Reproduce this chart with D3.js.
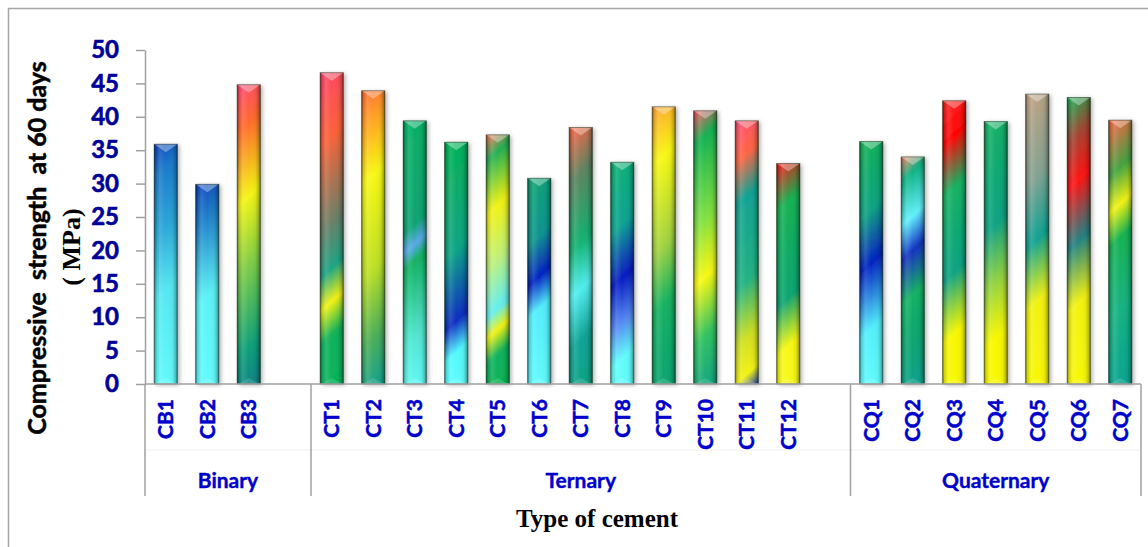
<!DOCTYPE html>
<html>
<head>
<meta charset="utf-8">
<script src="https://cdn.jsdelivr.net/npm/d3@7"></script>
<style>
  body { margin: 0; background: #fff; }
  svg { display: block; font-family: Lato, "Open Sans", sans-serif; }
</style>
</head>
<body>
<svg id="chart" width="1148" height="547"></svg>
<script>
// groups of cement and their mixes
const groups = ["Binary", "Ternary", "Quaternary"];
const binaryMixes = ["CB1", "CB2", "CB3"];
const ternaryMixes = ["CT1", "CT2", "CT3", "CT4", "CT5", "CT6", "CT7", "CT8", "CT9", "CT10", "CT11", "CT12"];
const quaternaryMixes = ["CQ1", "CQ2", "CQ3", "CQ4", "CQ5", "CQ6", "CQ7"];

// compressive strength at 60 days (MPa)
const binaryStrength = [35.9, 29.9, 44.8];
const ternaryStrength = [46.6, 43.9, 39.4, 36.2, 37.3, 30.8, 38.4, 33.2, 41.5, 40.9, 39.4, 33.0];
const quaternaryStrength = [36.3, 34.0, 42.4, 39.3, 43.4, 42.9, 39.5];

const yTicks = [0, 5, 10, 15, 20, 25, 30, 35, 40, 45, 50];

// the "rainbow" gradient of each bar, top to bottom (style only)
const barFills = [
  [[0, "#0a3cbc"], [0.12, "#1a78c8"], [0.35, "#2aa6d8"], [0.6, "#55e8f2"], [1, "#62fcfc"]],
  [[0, "#0a40bc"], [0.2, "#1f80c8"], [0.55, "#5cf2f6"], [1, "#62fcfc"]],
  [[0, "#ff4474"], [0.15, "#ff6a2c"], [0.38, "#f4f414"], [0.6, "#7ccc48"], [0.85, "#10a078"], [1, "#127e86"]],
  [[0, "#ff4468"], [0.22, "#fb6238"], [0.48, "#6a8068"], [0.62, "#1ea484"], [0.72, "#f2f214"], [0.82, "#12b25a"], [1, "#02b45c"]],
  [[0, "#ff6a34"], [0.15, "#ffb020"], [0.3, "#f8f812"], [0.6, "#bce024"], [0.82, "#4cae58"], [1, "#10a292"]],
  [[0, "#04b062"], [0.4, "#10a474"], [0.47, "#58a8e8"], [0.53, "#12b262"], [0.8, "#52e6d2"], [1, "#62fcfc"]],
  [[0, "#02b252"], [0.45, "#10a484"], [0.72, "#0e2cc2"], [0.84, "#52fafc"], [1, "#62fcfc"]],
  [[0, "#ff7050"], [0.1, "#22b054"], [0.3, "#f2f212"], [0.5, "#bcf07e"], [0.68, "#62eef0"], [0.76, "#f2f212"], [0.85, "#12b25e"], [1, "#02b452"]],
  [[0, "#10a472"], [0.3, "#10948e"], [0.48, "#0422c2"], [0.62, "#52eefc"], [1, "#62fcfc"]],
  [[0, "#ff6444"], [0.2, "#5e8460"], [0.45, "#12b270"], [0.62, "#52eef0"], [0.8, "#10a496"], [1, "#10a282"]],
  [[0, "#10b272"], [0.3, "#10a292"], [0.52, "#061ac2"], [0.7, "#5488f2"], [0.85, "#62fcfc"], [1, "#62fcfc"]],
  [[0, "#ffa030"], [0.2, "#f8f812"], [0.5, "#a2d242"], [0.7, "#12b262"], [1, "#10a272"]],
  [[0, "#ff5064"], [0.12, "#12b252"], [0.4, "#82e042"], [0.6, "#f8f812"], [0.8, "#32c262"], [1, "#10a282"]],
  [[0, "#ff4e74"], [0.15, "#ff6442"], [0.3, "#10a292"], [0.6, "#22b282"], [0.8, "#d0e022"], [0.93, "#f2f212"], [1, "#2444c2"]],
  [[0, "#ff1212"], [0.2, "#12b252"], [0.6, "#10a472"], [0.8, "#f8f812"], [1, "#f8f812"]],
  [[0, "#12b252"], [0.3, "#10a282"], [0.5, "#0422c2"], [0.75, "#52f0fc"], [1, "#62fcfc"]],
  [[0, "#ff8262"], [0.1, "#10b282"], [0.28, "#62f0fc"], [0.42, "#1232c2"], [0.6, "#12b262"], [0.8, "#10a472"], [1, "#10a292"]],
  [[0, "#ff2222"], [0.15, "#ff0404"], [0.32, "#12b262"], [0.6, "#10a282"], [0.8, "#f8f802"], [1, "#f8f802"]],
  [[0, "#12b262"], [0.4, "#10a282"], [0.6, "#92d242"], [0.8, "#f8f802"], [1, "#f8f802"]],
  [[0, "#c2a282"], [0.3, "#82a292"], [0.5, "#10a292"], [0.7, "#f2f212"], [1, "#f8f802"]],
  [[0, "#12b252"], [0.15, "#a24432"], [0.3, "#ff1212"], [0.5, "#228282"], [0.7, "#f2f212"], [1, "#f8f802"]],
  [[0, "#ff6242"], [0.2, "#42a242"], [0.33, "#f2f212"], [0.45, "#12b252"], [0.7, "#12b282"], [1, "#10a292"]]
];

const svg = d3.select("#chart");
const defs = svg.append("defs");

// build rows and the slot list (an empty slot after every group but the last)
const mixSets = [binaryMixes, ternaryMixes, quaternaryMixes];
const valueSets = [binaryStrength, ternaryStrength, quaternaryStrength];
const rows = [];
const slots = [];
mixSets.forEach((mixes, gi) => {
  mixes.forEach((m, i) => {
    rows.push({ key: m, value: valueSets[gi][i], group: gi });
    slots.push(m);
  });
  if (gi < mixSets.length - 1) slots.push("gap" + gi);
});

const x = d3.scaleBand().domain(slots).range([145, 1141]).paddingInner(0.44).paddingOuter(0.22);
const y = d3.scaleLinear().domain([0, 50]).range([384, 50]);

// outer frame
svg.append("rect")
  .attr("x", 8.5).attr("y", 8.5)
  .attr("width", 1170).attr("height", 570)
  .attr("fill", "none").attr("stroke", "#a6a6a6").attr("stroke-width", 1.5);

// shadow + side shading
const shadow = defs.append("filter").attr("id", "shadow")
  .attr("x", "-60%").attr("y", "-10%").attr("width", "220%").attr("height", "120%");
shadow.append("feDropShadow")
  .attr("dx", 2).attr("dy", 1).attr("stdDeviation", 2)
  .attr("flood-color", "#000").attr("flood-opacity", 0.32);

const edge = defs.append("linearGradient").attr("id", "edge")
  .attr("x1", 0).attr("x2", 1).attr("y1", 0).attr("y2", 0);
[[0, "#000", 0.55], [0.08, "#000", 0.15], [0.25, "#fff", 0.12], [0.5, "#fff", 0],
 [0.8, "#000", 0.05], [0.93, "#000", 0.25], [1, "#000", 0.6]].forEach(s => {
  edge.append("stop").attr("offset", s[0]).attr("stop-color", s[1]).attr("stop-opacity", s[2]);
});

// faint level line under the labels
svg.append("line")
  .attr("x1", 145).attr("x2", 1141).attr("y1", 450).attr("y2", 450)
  .attr("stroke", "#f0f0f0").attr("stroke-width", 1);

// bars
const bw = x.bandwidth();
const slope = 0.9;
const bars = svg.append("g").selectAll("g.bar")
  .data(rows)
  .join("g")
  .attr("class", "bar");

bars.each(function (d, i) {
  const g = d3.select(this);
  const x0 = x(d.key);
  const top = y(d.value);
  const h = y(0) - top;
  const t = (bw * slope + h) / (slope * slope + 1);
  const grad = defs.append("linearGradient").attr("id", "fill" + i)
    .attr("gradientUnits", "userSpaceOnUse")
    .attr("x1", x0).attr("y1", top)
    .attr("x2", x0 + slope * t).attr("y2", top + t);
  barFills[i].forEach(s => {
    grad.append("stop").attr("offset", s[0]).attr("stop-color", s[1]);
  });

  g.append("rect")
    .attr("x", x0).attr("y", top).attr("width", bw).attr("height", h)
    .attr("fill", "url(#fill" + i + ")")
    .attr("filter", "url(#shadow)");
  g.append("rect")
    .attr("x", x0).attr("y", top).attr("width", bw).attr("height", h)
    .attr("fill", "url(#edge)");
  g.append("polygon")
    .attr("points", [[x0, top], [x0 + bw, top], [x0 + bw / 2, top + 8]].join(" "))
    .attr("fill", "#fff").attr("fill-opacity", 0.35);
  g.append("polygon")
    .attr("points", [[x0 + 1, y(0)], [x0 + bw - 1, y(0)], [x0 + bw / 2, y(0) - 6]].join(" "))
    .attr("fill", "#fff").attr("fill-opacity", 0.15);
  g.append("rect")
    .attr("x", x0).attr("y", top).attr("width", bw).attr("height", h)
    .attr("fill", "none").attr("stroke", "#1e321e").attr("stroke-opacity", 0.6).attr("stroke-width", 0.8);
});

// y axis
const yAxis = svg.append("g")
  .attr("transform", "translate(145,0)")
  .call(d3.axisLeft(y).tickValues(yTicks).tickSize(9).tickSizeOuter(0).tickPadding(17));
yAxis.select(".domain").attr("stroke", "#a0a0a0").attr("stroke-width", 1.5);
yAxis.selectAll(".tick line").attr("stroke", "#a0a0a0").attr("stroke-width", 1.5);
yAxis.selectAll(".tick text")
  .attr("fill", "#000099").attr("stroke", "#000099").attr("stroke-width", 0.6)
  .attr("font-size", 24).attr("font-weight", "bold")
  .attr("font-family", "Lato, sans-serif");

// x axis line
svg.append("line")
  .attr("x1", 145).attr("x2", 1141).attr("y1", 384).attr("y2", 384)
  .attr("stroke", "#a0a0a0").attr("stroke-width", 1.5);

// mix labels
svg.append("g").selectAll("text")
  .data(rows)
  .join("text")
  .attr("transform", d => `translate(${x(d.key) + bw / 2},399) rotate(-90)`)
  .attr("dy", "0.36em")
  .attr("text-anchor", "end")
  .attr("fill", "#0000cc").attr("stroke", "#0000cc").attr("stroke-width", 0.5)
  .attr("font-size", 21).attr("font-weight", "bold")
  .text(d => d.key);

// group separators and labels
const step = x.step();
const slotEnd = k => x(k) - step * x.paddingInner() / 2 + step;
const bounds = [145, slotEnd("gap0"), slotEnd("gap1"), 1141];
svg.append("g").selectAll("line")
  .data(bounds)
  .join("line")
  .attr("x1", d => d).attr("x2", d => d)
  .attr("y1", 384).attr("y2", 496)
  .attr("stroke", "#a0a0a0").attr("stroke-width", 1.5);

svg.append("g").selectAll("text")
  .data(groups)
  .join("text")
  .attr("x", (d, i) => (bounds[i] + bounds[i + 1]) / 2)
  .attr("y", 488)
  .attr("text-anchor", "middle")
  .attr("fill", "#0000cc").attr("stroke", "#0000cc").attr("stroke-width", 0.4)
  .attr("font-size", 21).attr("font-weight", "bold")
  .text(d => d);

// axis titles
svg.append("text")
  .attr("transform", "translate(46,248) rotate(-90)")
  .attr("text-anchor", "middle")
  .style("white-space", "pre")
  .attr("font-size", 25).attr("font-weight", "bold").attr("fill", "#000")
  .attr("stroke", "#000").attr("stroke-width", 0.5)
  .text("Compressive  strength  at 60 days");
svg.append("text")
  .attr("transform", "translate(80,247) rotate(-90)")
  .attr("text-anchor", "middle")
  .style("white-space", "pre")
  .attr("font-family", "'Liberation Serif', serif")
  .attr("font-size", 26).attr("font-weight", "bold").attr("fill", "#000")
  .text("( MPa)");
svg.append("text")
  .attr("x", 597).attr("y", 527)
  .attr("text-anchor", "middle")
  .attr("font-family", "'Liberation Serif', serif")
  .attr("font-size", 25).attr("font-weight", "bold").attr("fill", "#000")
  .text("Type of cement");
</script>
</body>
</html>
